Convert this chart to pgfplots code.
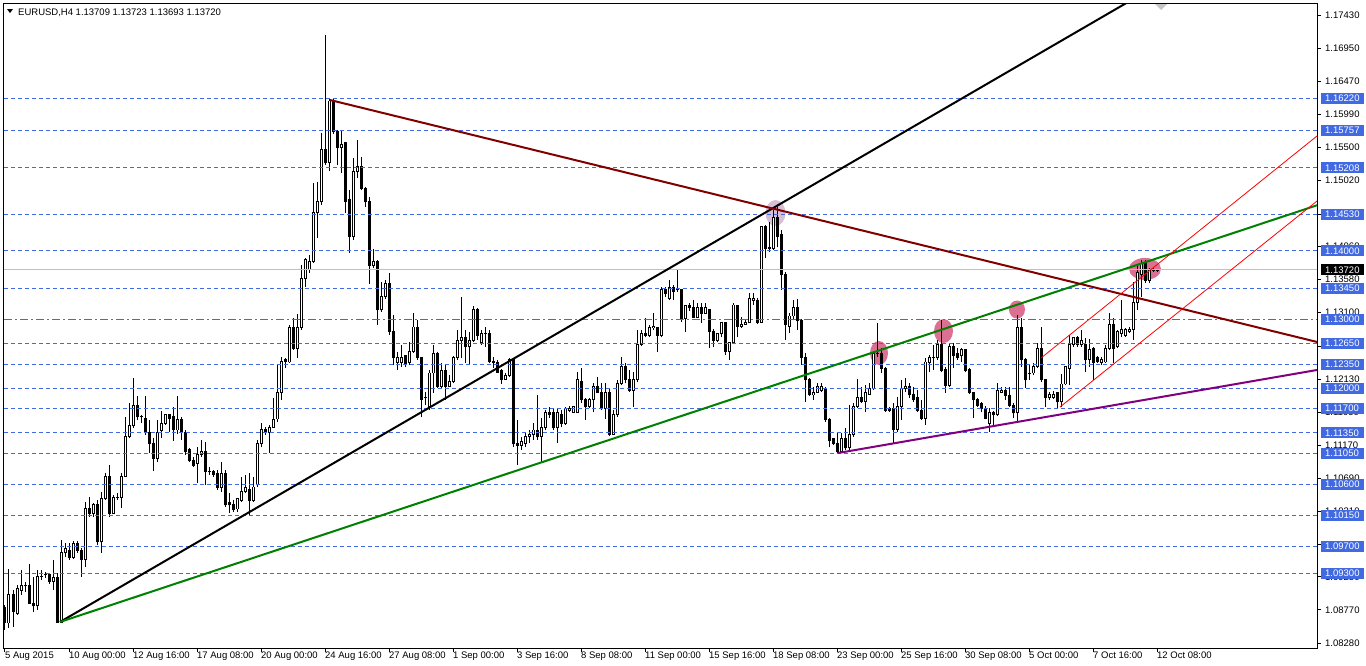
\documentclass[border=0pt]{standalone}
\usepackage{fontspec}
\setmainfont{Liberation Sans}
\usepackage{pgfplots}
\usepackage{pgfplotstable}
\pgfplotsset{compat=1.18}
\usetikzlibrary{calc}

\definecolor{lvlblue}{RGB}{65,105,225}
\definecolor{trgreen}{RGB}{0,128,0}
\definecolor{trmaroon}{RGB}{128,0,0}
\definecolor{trpurple}{RGB}{128,0,128}
\definecolor{hlpink}{RGB}{219,112,147}
\definecolor{hllilac}{RGB}{216,191,216}
\definecolor{bidgray}{RGB}{192,192,192}

% EURUSD H4 candles: x = bar position, o h l c
\pgfplotstableread{
x o h l c
5 1.0880 1.0884 1.0848 1.0858
9 1.0858 1.0937 1.0851 1.0899
13 1.0899 1.0906 1.0852 1.0874
17 1.0872 1.0913 1.0870 1.0908
21 1.0906 1.0935 1.0899 1.0913
25 1.0913 1.0918 1.0903 1.0913
29 1.0913 1.0944 1.0887 1.0887
33 1.0887 1.0925 1.0874 1.0883
37 1.0883 1.0935 1.0877 1.0926
41 1.0926 1.0935 1.0921 1.0926
45 1.0928 1.0932 1.0924 1.0928
49 1.0928 1.0931 1.0915 1.0919
53 1.0919 1.0950 1.0906 1.0924
57 1.0924 1.0931 1.0858 1.0859
61 1.0859 1.0979 1.0858 1.0960
65 1.0960 1.0974 1.0954 1.0967
69 1.0964 1.0974 1.0950 1.0954
73 1.0954 1.0977 1.0951 1.0974
77 1.0974 1.0977 1.0960 1.0964
81 1.0964 1.0967 1.0925 1.0951
85 1.0951 1.1034 1.0940 1.1025
89 1.1025 1.1041 1.1012 1.1018
93 1.1018 1.1033 1.1012 1.1031
97 1.1031 1.1037 1.0972 1.0976
101 1.0976 1.1049 1.0960 1.1039
105 1.1039 1.1076 1.1037 1.1072
109 1.1072 1.1088 1.1012 1.1018
113 1.1018 1.1044 1.1018 1.1041
117 1.1041 1.1047 1.1037 1.1041
121 1.1041 1.1076 1.1025 1.1072
125 1.1072 1.1158 1.1071 1.1129
129 1.1129 1.1178 1.1127 1.1145
133 1.1145 1.1215 1.1142 1.1175
137 1.1174 1.1189 1.1154 1.1158
141 1.1158 1.1161 1.1149 1.1158
145 1.1156 1.1189 1.1132 1.1136
149 1.1136 1.1154 1.1106 1.1119
153 1.1119 1.1127 1.1079 1.1098
157 1.1098 1.1154 1.1092 1.1136
161 1.1138 1.1167 1.1127 1.1149
165 1.1149 1.1161 1.1146 1.1161
169 1.1161 1.1161 1.1136 1.1156
173 1.1158 1.1173 1.1123 1.1139
177 1.1139 1.1189 1.1133 1.1154
181 1.1154 1.1158 1.1125 1.1135
185 1.1135 1.1139 1.1103 1.1108
189 1.1110 1.1113 1.1092 1.1094
193 1.1094 1.1100 1.1085 1.1088
197 1.1090 1.1114 1.1062 1.1104
201 1.1104 1.1125 1.1100 1.1108
205 1.1108 1.1122 1.1059 1.1078
209 1.1078 1.1085 1.1074 1.1078
213 1.1078 1.1081 1.1071 1.1074
217 1.1075 1.1081 1.1052 1.1055
221 1.1055 1.1092 1.1049 1.1076
225 1.1076 1.1081 1.1027 1.1030
229 1.1033 1.1047 1.1018 1.1030
233 1.1031 1.1037 1.1020 1.1023
237 1.1024 1.1040 1.1020 1.1039
241 1.1037 1.1071 1.1034 1.1049
245 1.1049 1.1074 1.1047 1.1055
249 1.1053 1.1076 1.1015 1.1036
253 1.1036 1.1071 1.1034 1.1056
257 1.1059 1.1125 1.1056 1.1120
261 1.1119 1.1149 1.1114 1.1140
265 1.1140 1.1143 1.1132 1.1136
269 1.1136 1.1146 1.1106 1.1143
273 1.1143 1.1186 1.1142 1.1155
277 1.1155 1.1234 1.1151 1.1194
281 1.1194 1.1245 1.1183 1.1239
285 1.1242 1.1244 1.1229 1.1238
289 1.1238 1.1292 1.1237 1.1288
293 1.1288 1.1302 1.1256 1.1258
297 1.1258 1.1308 1.1244 1.1288
301 1.1288 1.1379 1.1285 1.1360
305 1.1360 1.1389 1.1347 1.1387
309 1.1373 1.1394 1.1368 1.1385
313 1.1384 1.1499 1.1382 1.1455
317 1.1455 1.1500 1.1419 1.1471
321 1.1471 1.1571 1.1467 1.1548
325 1.1548 1.1714 1.1525 1.1528
329 1.1529 1.1621 1.1516 1.1618
333 1.1618 1.1621 1.1570 1.1573
337 1.1573 1.1576 1.1525 1.1550
341 1.1550 1.1576 1.1513 1.1555
345 1.1557 1.1558 1.1455 1.1472
349 1.1474 1.1488 1.1397 1.1421
353 1.1421 1.1535 1.1416 1.1516
357 1.1516 1.1561 1.1506 1.1522
361 1.1522 1.1537 1.1488 1.1491
365 1.1491 1.1493 1.1464 1.1471
369 1.1471 1.1478 1.1352 1.1379
373 1.1379 1.1403 1.1375 1.1384
377 1.1384 1.1387 1.1292 1.1314
381 1.1314 1.1355 1.1311 1.1333
385 1.1333 1.1357 1.1330 1.1352
389 1.1352 1.1368 1.1277 1.1283
393 1.1283 1.1306 1.1234 1.1244
397 1.1237 1.1253 1.1226 1.1245
401 1.1237 1.1263 1.1231 1.1245
405 1.1247 1.1248 1.1231 1.1235
409 1.1237 1.1267 1.1234 1.1253
413 1.1253 1.1309 1.1251 1.1289
417 1.1289 1.1299 1.1241 1.1244
421 1.1244 1.1245 1.1158 1.1184
425 1.1186 1.1194 1.1175 1.1186
429 1.1173 1.1226 1.1168 1.1222
433 1.1222 1.1263 1.1193 1.1251
437 1.1251 1.1253 1.1200 1.1202
441 1.1202 1.1237 1.1200 1.1226
445 1.1226 1.1234 1.1183 1.1203
449 1.1203 1.1219 1.1202 1.1209
453 1.1209 1.1247 1.1207 1.1244
457 1.1244 1.1285 1.1241 1.1270
461 1.1270 1.1333 1.1244 1.1274
465 1.1274 1.1285 1.1237 1.1260
469 1.1260 1.1282 1.1234 1.1270
473 1.1270 1.1320 1.1267 1.1315
477 1.1315 1.1317 1.1270 1.1277
481 1.1266 1.1285 1.1263 1.1280
485 1.1280 1.1289 1.1260 1.1279
489 1.1280 1.1285 1.1237 1.1238
493 1.1239 1.1245 1.1229 1.1237
497 1.1237 1.1241 1.1222 1.1223
501 1.1226 1.1228 1.1206 1.1213
505 1.1213 1.1222 1.1212 1.1219
509 1.1219 1.1244 1.1216 1.1241
513 1.1241 1.1242 1.1114 1.1119
517 1.1120 1.1154 1.1088 1.1117
521 1.1117 1.1129 1.1110 1.1122
525 1.1120 1.1135 1.1114 1.1129
529 1.1129 1.1139 1.1120 1.1132
533 1.1132 1.1149 1.1125 1.1139
537 1.1139 1.1190 1.1125 1.1129
541 1.1129 1.1156 1.1091 1.1143
545 1.1143 1.1168 1.1139 1.1164
549 1.1165 1.1173 1.1156 1.1162
553 1.1164 1.1171 1.1139 1.1142
557 1.1142 1.1171 1.1120 1.1164
561 1.1162 1.1168 1.1143 1.1148
565 1.1148 1.1173 1.1146 1.1170
569 1.1168 1.1174 1.1165 1.1171
573 1.1165 1.1174 1.1164 1.1173
577 1.1164 1.1223 1.1164 1.1212
581 1.1210 1.1229 1.1178 1.1184
585 1.1184 1.1186 1.1154 1.1173
589 1.1173 1.1186 1.1171 1.1183
593 1.1183 1.1207 1.1165 1.1202
597 1.1202 1.1216 1.1193 1.1193
601 1.1194 1.1207 1.1168 1.1170
605 1.1170 1.1207 1.1155 1.1193
609 1.1193 1.1200 1.1130 1.1133
613 1.1133 1.1168 1.1132 1.1161
617 1.1161 1.1212 1.1158 1.1207
621 1.1207 1.1245 1.1204 1.1231
625 1.1231 1.1237 1.1207 1.1213
629 1.1213 1.1226 1.1194 1.1197
633 1.1197 1.1223 1.1173 1.1212
637 1.1212 1.1285 1.1209 1.1264
641 1.1264 1.1285 1.1261 1.1280
645 1.1280 1.1302 1.1274 1.1277
649 1.1277 1.1292 1.1274 1.1288
653 1.1288 1.1309 1.1285 1.1290
657 1.1288 1.1289 1.1253 1.1277
661 1.1277 1.1347 1.1274 1.1344
665 1.1344 1.1347 1.1333 1.1337
669 1.1330 1.1357 1.1328 1.1347
673 1.1347 1.1350 1.1328 1.1341
677 1.1345 1.1373 1.1340 1.1343
681 1.1343 1.1344 1.1296 1.1301
685 1.1301 1.1321 1.1282 1.1320
689 1.1320 1.1324 1.1312 1.1317
693 1.1318 1.1328 1.1302 1.1303
697 1.1303 1.1324 1.1302 1.1317
701 1.1318 1.1324 1.1295 1.1309
705 1.1309 1.1324 1.1309 1.1317
709 1.1314 1.1315 1.1258 1.1283
713 1.1283 1.1286 1.1260 1.1269
717 1.1269 1.1280 1.1267 1.1279
721 1.1279 1.1296 1.1274 1.1295
725 1.1295 1.1296 1.1248 1.1253
729 1.1253 1.1267 1.1241 1.1266
733 1.1266 1.1324 1.1264 1.1321
737 1.1320 1.1321 1.1274 1.1290
741 1.1290 1.1304 1.1288 1.1293
745 1.1293 1.1299 1.1292 1.1296
749 1.1295 1.1339 1.1295 1.1330
753 1.1328 1.1339 1.1321 1.1330
757 1.1327 1.1331 1.1293 1.1295
761 1.1296 1.1435 1.1295 1.1435
765 1.1435 1.1438 1.1389 1.1403
769 1.1405 1.1442 1.1398 1.1403
773 1.1403 1.1459 1.1401 1.1449
777 1.1449 1.1464 1.1405 1.1421
781 1.1423 1.1430 1.1343 1.1365
785 1.1365 1.1369 1.1270 1.1292
789 1.1290 1.1309 1.1280 1.1305
793 1.1305 1.1328 1.1299 1.1317
797 1.1317 1.1330 1.1285 1.1298
801 1.1298 1.1301 1.1234 1.1245
805 1.1245 1.1251 1.1180 1.1213
809 1.1213 1.1215 1.1189 1.1190
813 1.1190 1.1202 1.1183 1.1194
817 1.1194 1.1207 1.1193 1.1202
821 1.1197 1.1207 1.1194 1.1202
825 1.1199 1.1202 1.1151 1.1154
829 1.1155 1.1156 1.1114 1.1123
833 1.1126 1.1127 1.1117 1.1120
837 1.1120 1.1135 1.1106 1.1107
841 1.1108 1.1135 1.1106 1.1127
845 1.1127 1.1142 1.1110 1.1113
849 1.1113 1.1175 1.1107 1.1132
853 1.1132 1.1178 1.1129 1.1173
857 1.1173 1.1213 1.1171 1.1187
861 1.1187 1.1202 1.1178 1.1180
865 1.1180 1.1204 1.1165 1.1193
869 1.1191 1.1207 1.1190 1.1199
873 1.1199 1.1253 1.1197 1.1251
877 1.1251 1.1295 1.1245 1.1250
881 1.1250 1.1258 1.1222 1.1229
885 1.1229 1.1231 1.1165 1.1168
889 1.1171 1.1173 1.1165 1.1167
893 1.1170 1.1178 1.1120 1.1140
897 1.1140 1.1187 1.1136 1.1173
901 1.1173 1.1212 1.1154 1.1199
905 1.1199 1.1215 1.1194 1.1202
909 1.1202 1.1207 1.1186 1.1190
913 1.1190 1.1202 1.1180 1.1183
917 1.1186 1.1197 1.1165 1.1168
921 1.1168 1.1183 1.1154 1.1156
925 1.1156 1.1244 1.1146 1.1238
929 1.1237 1.1248 1.1223 1.1244
933 1.1244 1.1263 1.1226 1.1245
937 1.1244 1.1270 1.1241 1.1263
941 1.1263 1.1299 1.1223 1.1226
945 1.1227 1.1231 1.1193 1.1204
949 1.1204 1.1266 1.1202 1.1261
953 1.1261 1.1266 1.1229 1.1247
957 1.1250 1.1258 1.1241 1.1245
961 1.1247 1.1258 1.1238 1.1256
965 1.1256 1.1257 1.1223 1.1226
969 1.1227 1.1229 1.1191 1.1193
973 1.1193 1.1194 1.1156 1.1183
977 1.1183 1.1186 1.1173 1.1175
981 1.1178 1.1180 1.1165 1.1171
985 1.1171 1.1174 1.1155 1.1156
989 1.1149 1.1171 1.1136 1.1164
993 1.1164 1.1167 1.1145 1.1161
997 1.1161 1.1207 1.1159 1.1196
1001 1.1194 1.1202 1.1193 1.1196
1005 1.1196 1.1202 1.1183 1.1189
1009 1.1189 1.1202 1.1173 1.1175
1013 1.1175 1.1178 1.1156 1.1164
1017 1.1164 1.1306 1.1151 1.1288
1021 1.1288 1.1302 1.1231 1.1241
1025 1.1241 1.1244 1.1200 1.1212
1029 1.1222 1.1234 1.1212 1.1222
1033 1.1222 1.1237 1.1219 1.1232
1037 1.1232 1.1266 1.1229 1.1258
1041 1.1258 1.1289 1.1209 1.1212
1045 1.1212 1.1213 1.1173 1.1187
1049 1.1187 1.1194 1.1183 1.1191
1053 1.1187 1.1196 1.1184 1.1191
1057 1.1193 1.1194 1.1171 1.1180
1061 1.1180 1.1220 1.1173 1.1206
1065 1.1206 1.1232 1.1204 1.1231
1069 1.1229 1.1277 1.1204 1.1263
1073 1.1263 1.1274 1.1260 1.1273
1077 1.1273 1.1276 1.1260 1.1263
1081 1.1263 1.1285 1.1260 1.1270
1085 1.1264 1.1273 1.1223 1.1241
1089 1.1242 1.1272 1.1231 1.1256
1093 1.1257 1.1260 1.1212 1.1237
1097 1.1244 1.1247 1.1237 1.1238
1101 1.1237 1.1245 1.1234 1.1241
1105 1.1238 1.1263 1.1237 1.1258
1109 1.1258 1.1309 1.1256 1.1293
1113 1.1293 1.1302 1.1237 1.1258
1117 1.1260 1.1285 1.1258 1.1282
1121 1.1280 1.1328 1.1274 1.1285
1125 1.1276 1.1288 1.1274 1.1285
1129 1.1282 1.1289 1.1280 1.1286
1133 1.1285 1.1355 1.1270 1.1324
1137 1.1324 1.1379 1.1314 1.1369
1141 1.1366 1.1387 1.1333 1.1382
1145 1.1382 1.1387 1.1353 1.1357
1149 1.1357 1.1375 1.1353 1.1373
1153 1.1372 1.1375 1.1369 1.1371
1157 1.13709 1.13723 1.13693 1.13720
}\candles

\begin{document}
\begin{tikzpicture}[font=\fontsize{9.5}{11}\selectfont]
\useasboundingbox (0,0) rectangle (1366pt,-665pt);
\fill[white] (0,0) rectangle (1366pt,-665pt);
\begin{axis}[
  at={(4pt,-648pt)}, anchor=south west,
  scale only axis, width=1313pt, height=645pt,
  xmin=4, xmax=1317, ymin=1.08216, ymax=1.17607,
  scaled ticks=false,
  axis line style={black, line width=1pt},
  tick style={black, line width=1pt},
  tick align=outside, major tick length=4pt,
  xtick pos=bottom, ytick pos=right, yticklabel pos=right,
  xtick={5,69,...,1157},
  xticklabels={5 Aug 2015, 10 Aug 00:00, 12 Aug 16:00, 17 Aug 08:00, 20 Aug 00:00, 24 Aug 16:00, 27 Aug 08:00, 1 Sep 00:00, 3 Sep 16:00, 8 Sep 08:00, 11 Sep 00:00, 15 Sep 16:00, 18 Sep 08:00, 23 Sep 00:00, 25 Sep 16:00, 30 Sep 08:00, 5 Oct 00:00, 7 Oct 16:00, 12 Oct 08:00},
  xticklabel style={anchor=north west, inner sep=0pt, xshift=0pt, yshift=0.5pt},
  ytick={1.08280,1.08770,1.09250,1.09730,1.10210,1.10690,1.11170,1.11650,1.12130,1.12610,1.13100,1.13580,1.14060,1.14530,1.15020,1.15500,1.15990,1.16470,1.16950,1.17430},
  % labels that sit fully under a level box are left blank
  yticklabels={1.08280,1.08770,1.09250,{},1.10210,1.10690,1.11170,1.11650,1.12130,{},1.13100,1.13580,1.14060,{},1.15020,1.15500,1.15990,1.16470,1.16950,1.17430},
  yticklabel style={anchor=west, inner sep=0pt, xshift=4pt},
]
% highlight ellipses (behind the candles)
\fill[hllilac] (axis cs:775.5,1.14549) ellipse [x radius=10pt, y radius=13pt];
\fill[hlpink] (axis cs:879,1.12511) ellipse [x radius=9pt, y radius=12pt];
\fill[hlpink] (axis cs:943.5,1.12831) ellipse [x radius=9.5pt, y radius=12pt];
\fill[hlpink] (axis cs:1017,1.13144) ellipse [x radius=8pt, y radius=9pt];
\fill[hlpink] (axis cs:1145,1.13735) ellipse [x radius=16pt, y radius=11pt];

% wicks
\addplot[draw=none, mark=none, error bars/.cd, y dir=plus, y explicit,
  error mark=none, error bar style={draw=black, line width=1pt}]
  table[x=x, y=l, y error plus expr={\thisrow{h}-\thisrow{l}}] {\candles};
% bodies (black outline / filled)
\addplot[draw=none, mark=none, error bars/.cd, y dir=plus, y explicit,
  error mark=none, error bar style={draw=black, line width=3pt}]
  table[x=x, y expr={min(\thisrow{o},\thisrow{c})-0.00007},
        y error plus expr={abs(\thisrow{o}-\thisrow{c})+0.00014}] {\candles};
% hollow inside of bull candles
\addplot[draw=none, mark=none, error bars/.cd, y dir=plus, y explicit,
  error mark=none, error bar style={draw=white, line width=1pt}]
  table[x=x, y expr={\thisrow{o}+0.00007},
        y error plus expr={max(\thisrow{c}-\thisrow{o}-0.00014,0)}] {\candles};

% horizontal levels
\pgfplotsinvokeforeach{1.16220,1.15757,1.15208,1.14530,1.14000,1.13450,1.12650,1.12350,1.12000,1.11700,1.11350,1.11050,1.10600,1.10150,1.09700,1.09300}{
  \addplot[lvlblue, line width=1pt, dash pattern=on 4pt off 3pt] coordinates {(4,#1) (1317,#1)};
}
\addplot[lvlblue, line width=1pt, dash pattern=on 8pt off 3pt on 2pt off 3pt] coordinates {(4,1.13000) (1317,1.13000)};
\addplot[bidgray, line width=1pt] coordinates {(4,1.13720) (1317,1.13720)};

% trend lines
\addplot[black, line width=2pt] coordinates {(60,1.08595) (1135,1.17680)};
\addplot[trgreen, line width=2pt] coordinates {(60,1.08595) (1317,1.14662)};
\addplot[trmaroon, line width=2pt] coordinates {(330,1.16195) (1317,1.12672)};
\addplot[trpurple, line width=2pt] coordinates {(838,1.11055) (1317,1.12264)};
\addplot[red, line width=0.8pt] coordinates {(1041,1.12438) (1317,1.15671)};
\addplot[red, line width=0.8pt] coordinates {(1060,1.11725) (1317,1.14724)};

\coordinate (q1) at (axis cs:1317,1.16220);
\coordinate (q2) at (axis cs:1317,1.15757);
\coordinate (q3) at (axis cs:1317,1.15208);
\coordinate (q4) at (axis cs:1317,1.14530);
\coordinate (q5) at (axis cs:1317,1.14000);
\coordinate (q6) at (axis cs:1317,1.13450);
\coordinate (q7) at (axis cs:1317,1.13000);
\coordinate (q8) at (axis cs:1317,1.12650);
\coordinate (q9) at (axis cs:1317,1.12350);
\coordinate (q10) at (axis cs:1317,1.12000);
\coordinate (q11) at (axis cs:1317,1.11700);
\coordinate (q12) at (axis cs:1317,1.11350);
\coordinate (q13) at (axis cs:1317,1.11050);
\coordinate (q14) at (axis cs:1317,1.10600);
\coordinate (q15) at (axis cs:1317,1.10150);
\coordinate (q16) at (axis cs:1317,1.09700);
\coordinate (q17) at (axis cs:1317,1.09300);
\coordinate (qb) at (axis cs:1317,1.13720);
\end{axis}

% price labels of the levels
\foreach \n/\t in {q1/1.16220,q2/1.15757,q3/1.15208,q4/1.14530,q5/1.14000,q6/1.13450,q7/1.13000,q8/1.12650,q9/1.12350,q10/1.12000,q11/1.11700,q12/1.11350,q13/1.11050,q14/1.10600,q15/1.10150,q16/1.09700,q17/1.09300}{
  \fill[lvlblue] ($(\n)+(4pt,-5.5pt)$) rectangle ($(\n)+(47pt,5.5pt)$);
  \node[white, anchor=west, inner sep=0pt] at ($(\n)+(8pt,0)$) {\t};
}
\fill[black] ($(qb)+(4pt,-5.5pt)$) rectangle ($(qb)+(47pt,5.5pt)$);
\node[white, anchor=west, inner sep=0pt] at ($(qb)+(8pt,0)$) {1.13720};

% header
\fill[black] (7pt,-9pt) -- (13pt,-9pt) -- (10pt,-13pt) -- cycle;
\node[anchor=base west, inner sep=0pt] at (18pt,-15pt) {EURUSD,H4 1.13709 1.13723 1.13693 1.13720};
% chart shift marker
\fill[gray!45] (1155pt,-4pt) -- (1167pt,-4pt) -- (1161pt,-10pt) -- cycle;
\end{tikzpicture}
\end{document}
